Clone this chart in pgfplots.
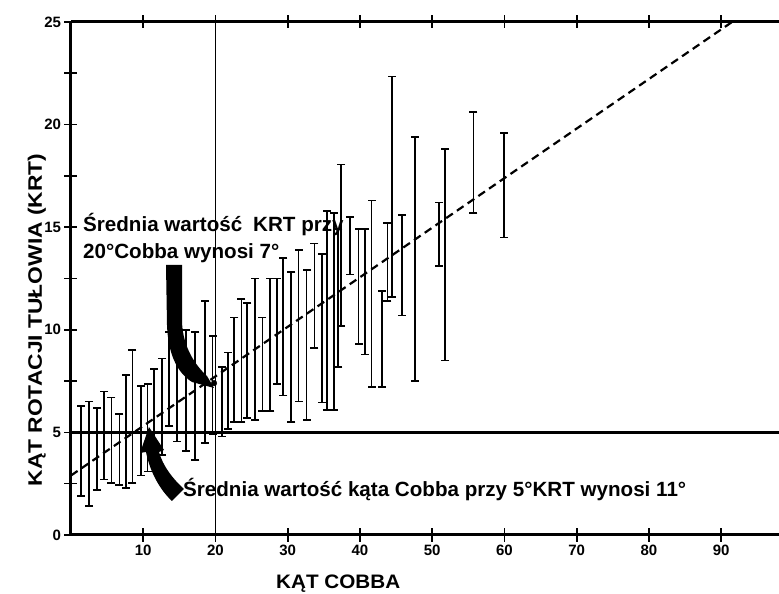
\documentclass[border=0pt]{standalone}
\usepackage{pgfplots}
\pgfplotsset{compat=1.18}
\usepackage{pgfplotstable}
\usepackage{fontspec}
\setmainfont{Liberation Sans}
\usepackage{graphicx}

\pgfplotstableread{
x lo hi
1.4 1.9 6.3
2.5 1.4 6.5
3.6 2.2 6.2
4.6 2.7 7.0
5.6 2.55 6.7
6.7 2.45 5.9
7.6 2.3 7.8
8.5 2.55 9.0
9.65 2.9 7.25
10.6 3.1 7.35
11.5 3.7 8.1
12.6 3.9 8.6
13.6 5.3 9.9
14.7 4.55 9.2
15.9 4.1 10.0
17.2 3.65 9.9
18.5 4.5 11.4
19.6 4.9 9.7
20.9 4.8 8.2
21.7 5.15 8.9
22.6 5.5 10.6
23.6 5.5 11.5
24.4 5.7 11.3
25.5 5.6 12.5
26.5 6.05 10.6
27.6 6.05 12.5
28.5 7.35 12.5
29.4 6.8 13.5
30.5 5.5 12.8
31.5 6.5 13.9
32.6 5.6 12.9
33.7 9.1 14.2
34.7 6.45 13.7
35.4 6.1 15.8
36.4 6.1 15.7
37.0 8.2 14.9
37.4 10.2 18.05
38.6 12.7 15.5
39.8 9.3 14.9
40.7 8.8 14.9
41.6 7.2 16.3
43.0 7.2 11.9
43.8 11.4 15.2
44.4 11.6 22.35
45.8 10.7 15.6
47.6 7.5 19.4
50.9 13.1 16.2
51.8 8.5 18.8
55.7 15.7 20.6
59.9 14.5 19.6
}\bars

\begin{document}
\begin{tikzpicture}[x=1pt,y=1pt]
\begin{axis}[
  at={(0pt,0pt)}, anchor=south west,
  scale only axis, width=708pt, height=513pt,
  xmin=0, xmax=98, ymin=0, ymax=25,
  axis x line=box, axis y line=left,
  axis line style={-, line width=3pt, black},
  xtick={10,20,...,90},
  ytick={0,5,...,25},
  minor ytick={2.5,7.5,...,22.5},
  tick align=center,
  major tick length=13pt, minor tick length=13pt,
  every tick/.style={black, line width=1.6pt},
  every minor tick/.style={black, line width=1.6pt},
  tick label style={font=\bfseries\fontsize{15}{15}\selectfont},
  /pgf/number format/assume math mode=true,
]
\addplot[black, line width=1.2pt] coordinates {(20,0) (20,25)};
\addplot[black, line width=2.3pt] coordinates {(0,5) (98,5)};
\addplot[black, line width=2.2pt, dash pattern=on 8pt off 5pt] coordinates {(0,2.9) (91.5,25)};
\addplot[draw=none, mark=none,
  error bars/.cd, y dir=both, y explicit, error mark=none,
  error bar style={draw=black, line width=1.8pt}]
  table[x=x, y expr={(\thisrow{lo}+\thisrow{hi})/2}, y error expr={(\thisrow{hi}-\thisrow{lo})/2}] {\bars};
\addplot[only marks, mark=-, mark size=4pt, black, mark options={line width=1.7pt}] table[x=x, y=lo] {\bars};
\addplot[only marks, mark=-, mark size=4pt, black, mark options={line width=1.7pt}] table[x=x, y=hi] {\bars};
\addplot[only marks, mark=*, mark size=2.8pt, black] coordinates {(19.8,7.4)};
\end{axis}
\begin{scope}[x=1pt, y=-1pt, shift={(-71pt,535pt)}]
\fill[black] (166,265) -- (167,325) .. controls (168,352) and (176,372) .. (192,382) -- (214,388) -- (207,376) .. controls (196,366) and (183,348) .. (182,322) -- (182,265) -- cycle;
\fill[black] (184,489) .. controls (172,478) and (163,466) .. (159,452) -- (164,450) -- (149,427) -- (140,453) -- (146,452) .. controls (150,472) and (160,490) .. (172,501) -- cycle;
\node[anchor=base west, inner sep=0pt, font=\bfseries\fontsize{20.6}{22}\selectfont] at (83,232) {Średnia wartość\hspace{0.25em} KRT przy};
\node[anchor=base west, inner sep=0pt, font=\bfseries\fontsize{20.6}{22}\selectfont] at (83,259) {20°Cobba wynosi 7°};
\node[anchor=base west, inner sep=0pt, font=\bfseries\fontsize{20.6}{22}\selectfont] at (183,497) {Średnia wartość kąta Cobba przy 5°KRT wynosi 11°};
\node[rotate=90, anchor=base, inner sep=0pt, font=\bfseries\fontsize{19.5}{20}\selectfont] at (42,320) {\scalebox{1.17}[1]{KĄT ROTACJI TUŁOWIA (KRT)}};
\node[anchor=base west, inner sep=0pt, font=\bfseries\fontsize{19.5}{20}\selectfont] at (276,589) {\scalebox{1.06}[1]{KĄT COBBA}};
\pgfresetboundingbox
\useasboundingbox (0,0) rectangle (779,594);
\end{scope}
\end{tikzpicture}
\end{document}
